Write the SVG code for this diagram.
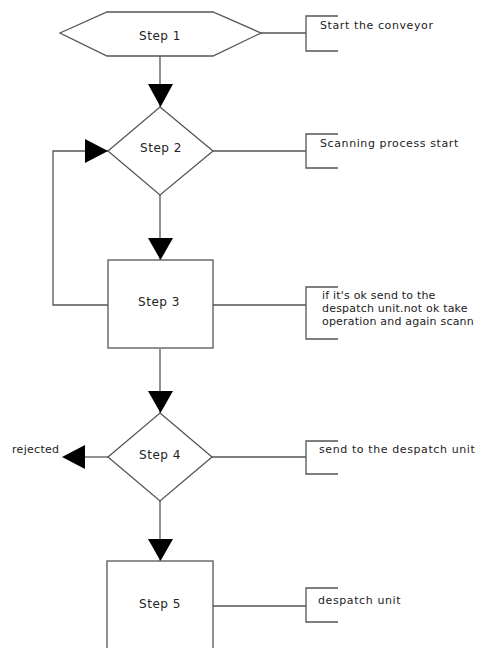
<svg xmlns="http://www.w3.org/2000/svg" width="480" height="648" viewBox="0 0 480 648">
<style>
.s{fill:#fff;stroke:#555;stroke-width:1.3}
.c{fill:none;stroke:#555;stroke-width:1.3}
.t{font-family:"DejaVu Sans",sans-serif;font-size:11px;fill:#222;letter-spacing:0.6px}
.n{font-size:12px;letter-spacing:0.5px}
.k{letter-spacing:0.2px}
.m{text-anchor:middle}
.a{fill:#000}
</style>
<rect width="480" height="648" fill="#fff"/>
<g id="connectors">
<line class="c" x1="160" y1="56" x2="160" y2="107"/>
<polygon class="a" points="148,84 173,84 160.5,107"/>
<line class="c" x1="160" y1="195" x2="160" y2="260"/>
<polygon class="a" points="148,238 173,238 160.5,260"/>
<polyline class="c" points="108,305 53,305 53,151 108,151"/>
<polygon class="a" points="85,139 85,163 108,151"/>
<line class="c" x1="160" y1="349" x2="160" y2="413"/>
<polygon class="a" points="148,391 173,391 160.5,413"/>
<line class="c" x1="160" y1="501" x2="160" y2="561"/>
<polygon class="a" points="148,539 173,539 160.5,561"/>
<line class="c" x1="108" y1="457" x2="85" y2="457"/>
<polygon class="a" points="85,445 85,469 62,457"/>
<line class="c" x1="261" y1="33" x2="306" y2="33"/>
<line class="c" x1="213" y1="151" x2="306" y2="151"/>
<line class="c" x1="213" y1="305" x2="306" y2="305"/>
<line class="c" x1="212" y1="457" x2="306" y2="457"/>
<line class="c" x1="213" y1="606" x2="306" y2="606"/>
</g>
<g id="step1">
<polygon class="s" points="60,33 107,12 213,12 261,33 213,56 107,56"/>
<text class="t n m" x="160" y="40">Step 1</text>
</g>
<g id="step2">
<polygon class="s" points="160,107 213,151 160,195 108,151"/>
<text class="t n m" x="161" y="152">Step 2</text>
</g>
<g id="step3">
<rect class="s" x="108" y="260" width="105" height="88"/>
<text class="t n m" x="159" y="306">Step 3</text>
</g>
<g id="step4">
<polygon class="s" points="160,413 212,457 160,501 108,457"/>
<text class="t n m" x="160" y="459">Step 4</text>
</g>
<g id="step5">
<rect class="s" x="107" y="561" width="106" height="100"/>
<text class="t n m" x="160" y="608">Step 5</text>
</g>
<g id="rejected">
<text class="t" x="12" y="453" style="letter-spacing:0.3px">rejected</text>
</g>
<g id="note1">
<polyline class="c" points="338,16 306,16 306,51 338,51"/>
<text class="t" x="320" y="29">Start the conveyor</text>
</g>
<g id="note2">
<polyline class="c" points="338,134 306,134 306,168 338,168"/>
<text class="t" x="320" y="147">Scanning process start</text>
</g>
<g id="note3">
<polyline class="c" points="338,287 306,287 306,339 338,339"/>
<text class="t k" x="322" y="299">if it's ok send to the</text>
<text class="t k" x="322" y="312">despatch unit.not ok take</text>
<text class="t k" x="322" y="325">operation and again scann</text>
</g>
<g id="note4">
<polyline class="c" points="338,441 306,441 306,474 338,474"/>
<text class="t" x="319" y="453">send to the despatch unit</text>
</g>
<g id="note5">
<polyline class="c" points="338,588 306,588 306,622 338,622"/>
<text class="t" x="318" y="604">despatch unit</text>
</g>
</svg>
